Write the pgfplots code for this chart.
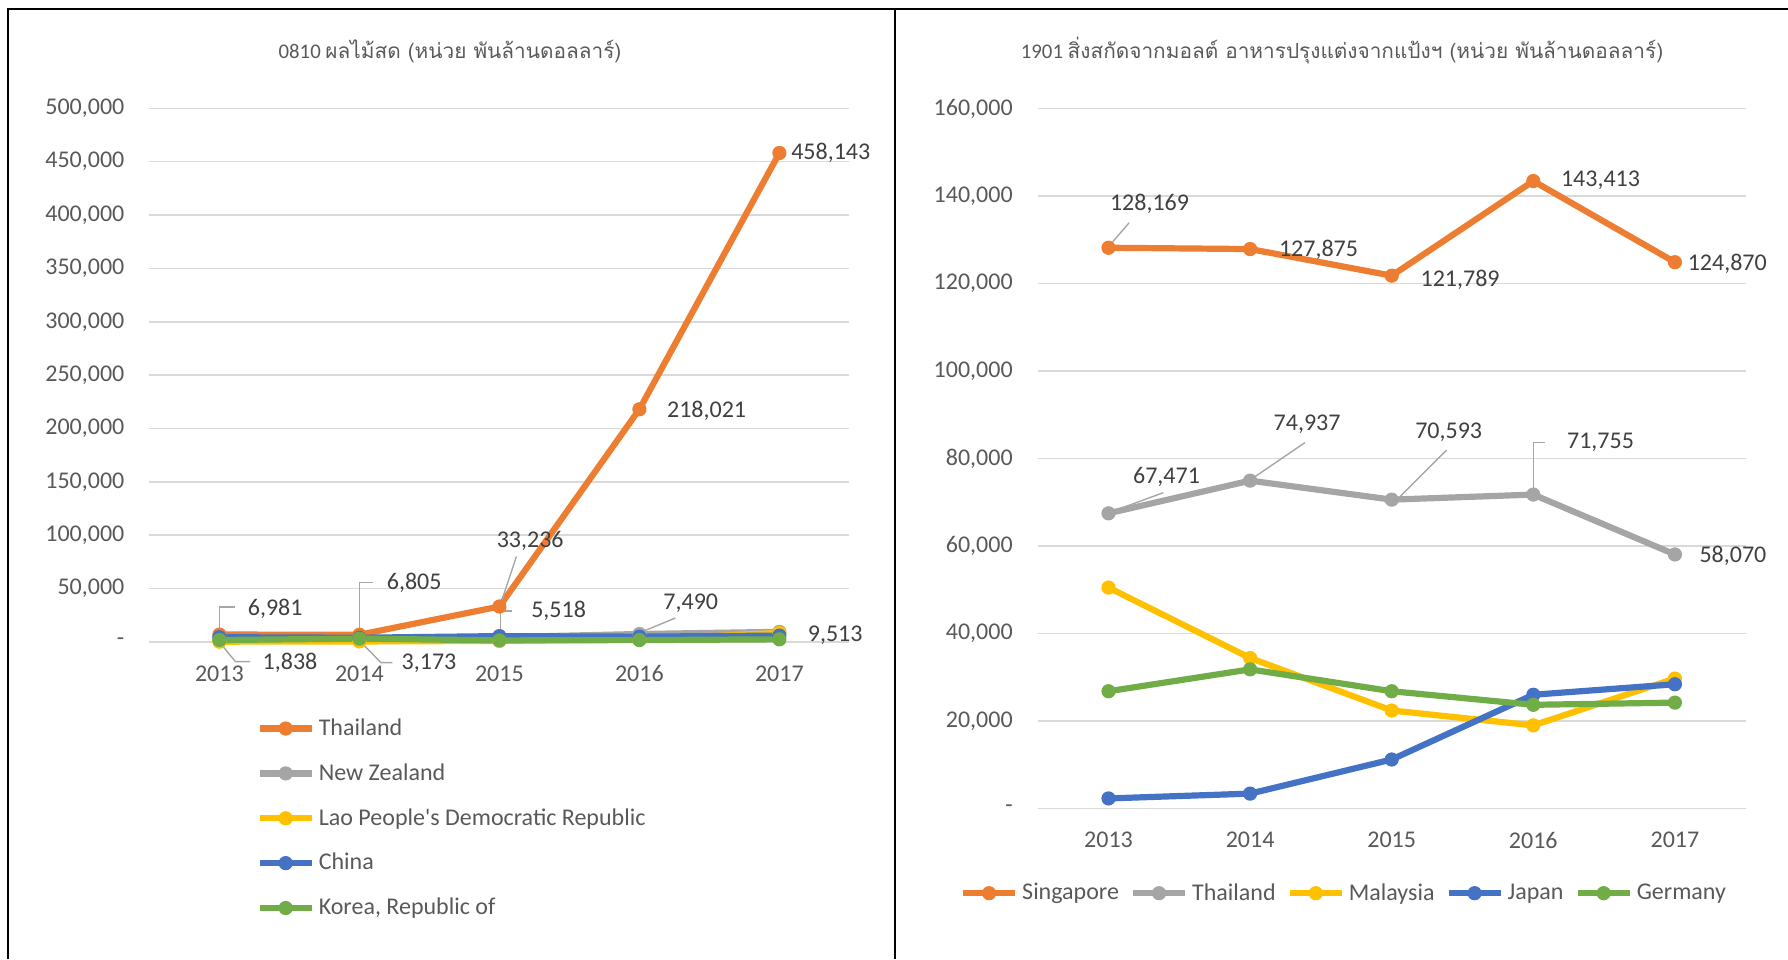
\documentclass[border=0pt]{standalone}
\usepackage{pgfplots}
\pgfplotsset{compat=1.18}
\usepackage{fontspec}
\setmainfont{Carlito}
\newfontfamily\thaifont[Script=Thai]{Loma}
\definecolor{cOr}{HTML}{ED7D31}
\definecolor{cGr}{HTML}{A5A5A5}
\definecolor{cYe}{HTML}{FFC000}
\definecolor{cBl}{HTML}{4472C4}
\definecolor{cGn}{HTML}{70AD47}
\definecolor{gridc}{HTML}{D9D9D9}
\definecolor{labc}{HTML}{595959}
\definecolor{datc}{HTML}{404040}
\definecolor{leadc}{HTML}{A6A6A6}
\newcommand\fs{\fontsize{12}{14}\selectfont}
\tikzset{
  dl/.style={font=\fs, text=datc, inner sep=1pt},
  ld/.style={draw=leadc, line width=0.7pt},
}
\pgfplotsset{
  excel/.style={
    scale only axis, anchor=south west,
    xmin=-0.5, xmax=4.5, ymin=0,
    scaled y ticks=false,
    xtick={0,1,2,3,4}, xticklabels={2013,2014,2015,2016,2017},
    axis line style={draw=none}, tick style={draw=none}, major tick length=0pt,
    ymajorgrids, grid style={line width=0.8pt, gridc},
    tick label style={font=\fs, text=labc},
    yticklabel style={xshift=-9pt},
    xticklabel style={yshift=-8.3pt},
    clip=false,
    legend style={draw=none, fill=none, font=\fs, text=labc},
    legend image code/.code={\draw[##1, mark repeat=2, mark phase=2] plot coordinates {(0pt,0pt) (13pt,0pt) (26pt,0pt)};},
    every axis plot/.append style={line width=3.1pt, mark=*, mark size=3.3pt, line join=round, mark options={solid, line width=0.5pt}},
  },
}
\begin{document}
\begin{tikzpicture}
\useasboundingbox (0,0) rectangle (894pt,479.5pt);
\draw[line width=1.2pt] (4pt,0) -- (4pt,475pt) -- (894pt,475pt);
\draw[line width=1.2pt] (447.5pt,0) -- (447.5pt,475pt);
\node[text=labc, font=\fontsize{10.4}{12}\selectfont] at (225pt,454pt) {0810 {\thaifont ผลไม้สด (หน่วย พันล้านดอลลาร์)}};
\node[text=labc, font=\fontsize{10.4}{12}\selectfont] at (671pt,454pt) {1901 {\thaifont สิ่งสกัดจากมอลต์ อาหารปรุงแต่งจากแป้งฯ (หน่วย พันล้านดอลลาร์)}};

% ---------------- Left chart ----------------
\begin{axis}[excel, at={(74.7pt,158.5pt)}, width=350pt, height=266.85pt,
  ymax=500000, ytick={0,50000,100000,150000,200000,250000,300000,350000,400000,450000,500000},
  yticklabels={{-\hspace{7pt}},{50,000},{100,000},{150,000},{200,000},{250,000},{300,000},{350,000},{400,000},{450,000},{500,000}},
  legend style={at={(0.144,-0.128)}, anchor=north west, row sep=8.6pt}, legend cell align=left]
\addplot[cOr] coordinates {(0,6981) (1,6805) (2,33236) (3,218021) (4,458143)};
\addlegendentry{Thailand}
\addplot[cGr] coordinates {(0,3000) (1,3200) (2,4500) (3,7490) (4,9513)};
\addlegendentry{New Zealand}
\addplot[cYe] coordinates {(0,300) (1,500) (2,1000) (3,2500) (4,8500)};
\addlegendentry{Lao People\textquotesingle s Democratic Republic}
\addplot[cBl] coordinates {(0,4500) (1,4000) (2,5518) (3,5000) (4,6000)};
\addlegendentry{China}
\addplot[cGn] coordinates {(0,1838) (1,3173) (2,1500) (3,1800) (4,2500)};
\addlegendentry{Korea, Republic of}
% data labels
\node[dl, xshift=27.9pt, yshift=13.1pt] at (axis cs:0,6981) {6,981};
\draw[ld] (axis cs:0,6981) ++(0pt,3pt) -- ++(0pt,10.7pt) -- ++(8pt,0pt);
\node[dl, xshift=27.4pt, yshift=25.7pt] at (axis cs:1,6805) {6,805};
\draw[ld] (axis cs:1,6805) ++(0pt,3pt) -- ++(0pt,23.2pt) -- ++(6.8pt,0pt);
\node[dl, xshift=15.4pt, yshift=33pt] at (axis cs:2,33236) {33,236};
\draw[ld] (axis cs:2,33236) ++(0.5pt,1pt) -- ++(8pt,24pt);
\node[dl, xshift=33.6pt, yshift=-0.6pt] at (axis cs:3,218021) {218,021};
\node[dl, xshift=25.7pt, yshift=0pt] at (axis cs:4,458143) {458,143};
\node[dl, xshift=29.6pt, yshift=12.5pt] at (axis cs:2,5518) {5,518};
\draw[ld] (axis cs:2,5518) ++(0.5pt,3pt) -- ++(0pt,9.5pt) -- ++(6pt,0pt);
\node[dl, xshift=25.7pt, yshift=15.4pt] at (axis cs:3,7490) {7,490};
\draw[ld] (axis cs:3,7490) ++(1pt,1pt) -- ++(17pt,7pt);
\node[dl, xshift=27.9pt, yshift=-1.7pt] at (axis cs:4,9513) {9,513};
\node[dl, xshift=35.3pt, yshift=-11.4pt] at (axis cs:0,1838) {1,838};
\draw[ld] (axis cs:0,1838) ++(0pt,-1pt) -- ++(8pt,-9.8pt) -- ++(7.4pt,0pt);
\node[dl, xshift=34.8pt, yshift=-12.5pt] at (axis cs:1,3173) {3,173};
\draw[ld] (axis cs:1,3173) ++(0pt,-1pt) -- ++(10.8pt,-11pt) -- ++(5.7pt,0pt);
\end{axis}

% ---------------- Right chart ----------------
\begin{axis}[excel, at={(518.85pt,75.25pt)}, width=354pt, height=350pt,
  ymax=160000, ytick={0,20000,40000,60000,80000,100000,120000,140000,160000},
  yticklabels={{-\hspace{7pt}},{20,000},{40,000},{60,000},{80,000},{100,000},{120,000},{140,000},{160,000}},
  legend style={at={(0.434,-0.121)}, anchor=center, /tikz/every even column/.append style={column sep=3.5pt}},
  legend columns=5]
\addplot[cOr] coordinates {(0,128169) (1,127875) (2,121789) (3,143413) (4,124870)};
\addlegendentry{Singapore}
\addplot[cGr] coordinates {(0,67471) (1,74937) (2,70593) (3,71755) (4,58070)};
\addlegendentry{Thailand}
\addplot[cYe] coordinates {(0,50500) (1,34400) (2,22400) (3,19000) (4,29700)};
\addlegendentry{Malaysia}
\addplot[cBl] coordinates {(0,2300) (1,3400) (2,11200) (3,26000) (4,28400)};
\addlegendentry{Japan}
\addplot[cGn] coordinates {(0,26800) (1,31800) (2,26800) (3,23700) (4,24200)};
\addlegendentry{Germany}
\node[dl, xshift=20.5pt, yshift=22.2pt] at (axis cs:0,128169) {128,169};
\draw[ld] (axis cs:0,128169) ++(1pt,1.7pt) -- ++(9.3pt,10.8pt);
\node[dl, xshift=34.2pt, yshift=-0.6pt] at (axis cs:1,127875) {127,875};
\node[dl, xshift=34.2pt, yshift=-2pt] at (axis cs:2,121789) {121,789};
\node[dl, xshift=33.6pt, yshift=0.4pt] at (axis cs:3,143413) {143,413};
\node[dl, xshift=26.2pt, yshift=-0.6pt] at (axis cs:4,124870) {124,870};
\node[dl, xshift=29pt, yshift=18.2pt] at (axis cs:0,67471) {67,471};
\draw[ld] (axis cs:0,67471) ++(2pt,1pt) -- ++(25.4pt,9.3pt);
\node[dl, xshift=28.5pt, yshift=28.2pt] at (axis cs:1,74937) {74,937};
\draw[ld] (axis cs:1,74937) ++(1pt,1pt) -- ++(26.4pt,18pt);
\node[dl, xshift=28.5pt, yshift=33.7pt] at (axis cs:2,70593) {70,593};
\draw[ld] (axis cs:2,70593) ++(4pt,1.4pt) -- ++(23.4pt,23.4pt);
\node[dl, xshift=33.6pt, yshift=26pt] at (axis cs:3,71755) {71,755};
\draw[ld] (axis cs:3,71755) ++(0pt,2pt) -- ++(0pt,24pt) -- ++(6pt,0pt);
\node[dl, xshift=29pt, yshift=-0.5pt] at (axis cs:4,58070) {58,070};
\end{axis}
\end{tikzpicture}
\end{document}
